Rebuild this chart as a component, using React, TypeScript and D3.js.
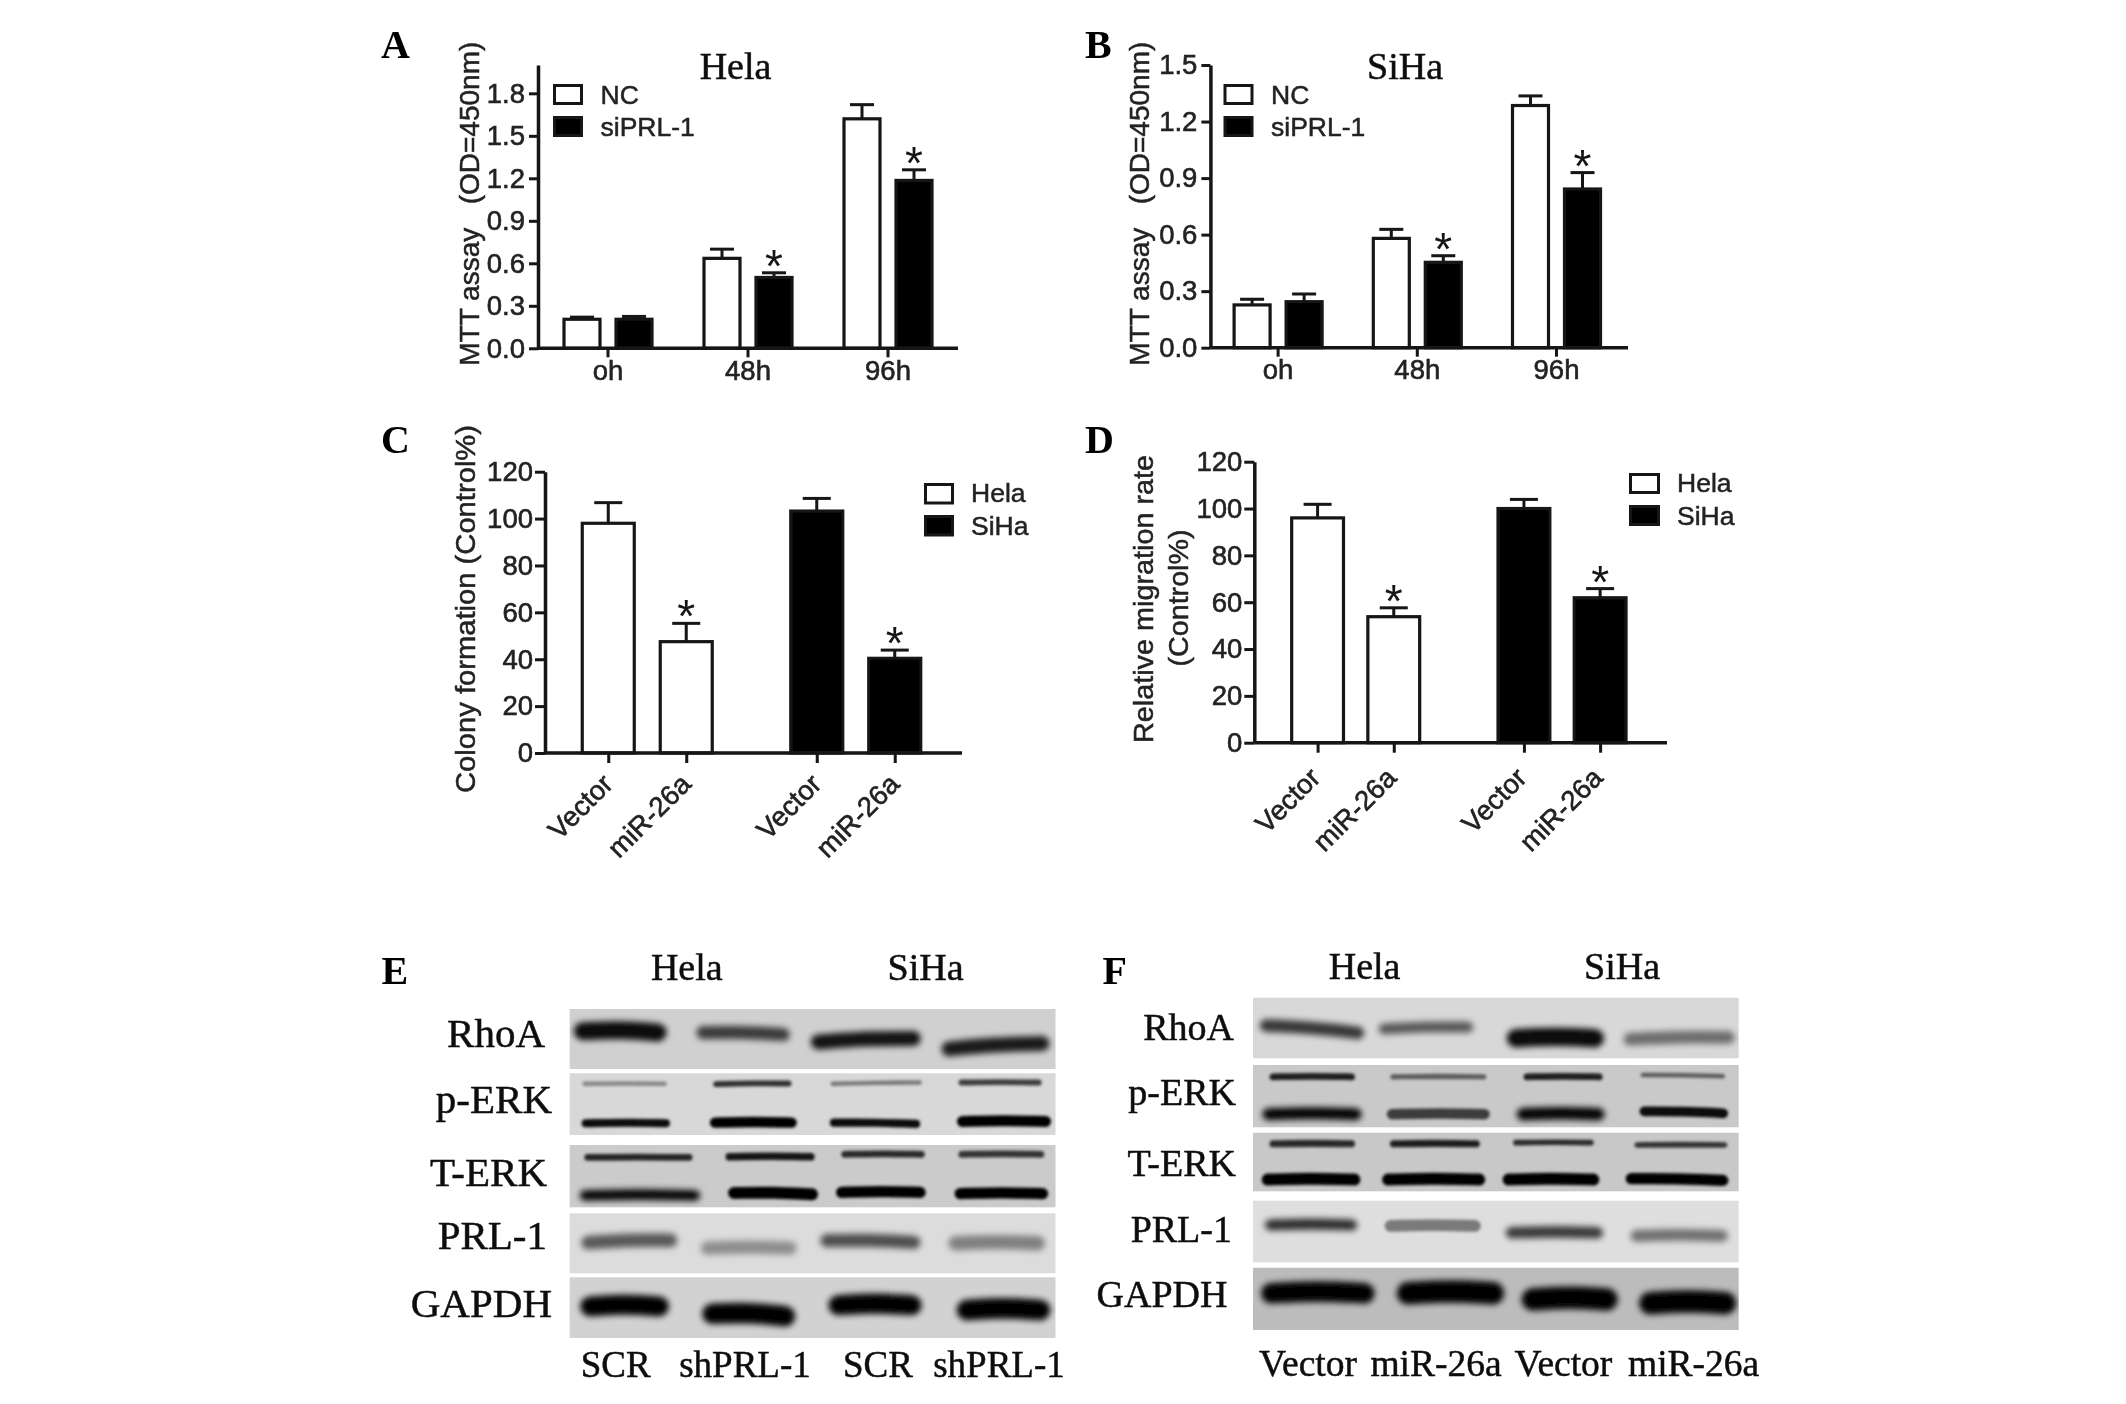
import { useEffect, useRef } from 'react';
import * as d3 from 'd3';

const WIDTH = 2126;
const HEIGHT = 1404;
const SANS = '"Liberation Sans", Arial, sans-serif';
const SERIF = '"Liberation Serif", "Times New Roman", serif';
const INK = '#141414';

// --- bar chart readings ---
const TIME_POINTS = ['oh', '48h', '96h'];
const TREATMENTS = ['NC', 'siPRL-1'];
const CELL_LINES = ['Hela', 'SiHa'];
const CONSTRUCTS = ['Vector', 'miR-26a'];

const HELA_TICKS = [0, 0.3, 0.6, 0.9, 1.2, 1.5, 1.8];
const SIHA_TICKS = [0, 0.3, 0.6, 0.9, 1.2, 1.5];
const PERCENT_TICKS = [0, 20, 40, 60, 80, 100, 120];

const HELA_NC = [0.205, 0.635, 1.62];
const HELA_NC_ERR = [0.22, 0.7, 1.72];
const HELA_SI = [0.205, 0.5, 1.185];
const HELA_SI_ERR = [0.225, 0.533, 1.26];
const HELA_SIG = [[false, false, false], [false, true, true]];

const SIHA_NC = [0.227, 0.58, 1.285];
const SIHA_NC_ERR = [0.257, 0.628, 1.336];
const SIHA_SI = [0.244, 0.453, 0.842];
const SIHA_SI_ERR = [0.285, 0.488, 0.929];
const SIHA_SIG = [[false, false, false], [false, true, true]];

const COLONY_HELA = [98, 47.5];
const COLONY_HELA_ERR = [106.8, 55.3];
const COLONY_SIHA = [103.2, 40.4];
const COLONY_SIHA_ERR = [108.6, 43.9];

const MIGRATION_HELA = [96, 53.8];
const MIGRATION_HELA_ERR = [101.8, 57.6];
const MIGRATION_SIHA = [100, 61.9];
const MIGRATION_SIHA_ERR = [103.9, 65.8];
const CONSTRUCT_SIG = [false, true];

// --- blot readings: lane start %, lane end %, migration % down the strip,
// band thickness % of strip, density 0-1, tilt % of strip ---
type Band = [number, number, number, number, number, number];

const E_RHOA: Band[] = [
  [1.4, 19.4, 38, 30, 0.95, -2], [26.5, 44.9, 41, 22, 0.72, -3],
  [50.1, 71.8, 52, 25, 0.92, 6], [77, 98.3, 62, 25, 0.88, 9],
];
const E_PERK: Band[] = [
  [2.8, 19.8, 17, 6, 0.38, 0], [29.8, 45.4, 17, 8, 0.78, 1],
  [53.9, 72.3, 16, 6, 0.45, 2], [80.3, 96.9, 15, 8, 0.72, 0],
  [2.8, 20.3, 81, 11, 0.95, 0], [29.3, 46.3, 80, 14, 1, 0],
  [53.9, 71.8, 81, 11, 0.95, -2], [80.2, 98.6, 78, 15, 1, 0],
];
const E_TERK: Band[] = [
  [3.3, 25, 20, 9, 0.82, 0], [32.4, 50.1, 19, 10, 0.9, 0],
  [56.2, 72.8, 15, 9, 0.8, 0], [80.3, 97.4, 15, 9, 0.75, 0],
  [2.4, 26.5, 81, 17, 1, 0], [33.1, 50.6, 78, 16, 1, -2],
  [55.3, 72.8, 76, 15, 1, 0], [79.7, 98, 78, 15, 1, 0],
];
const E_PRL: Band[] = [
  [2.8, 21.7, 47, 23, 0.6, 4], [27.4, 46.3, 58, 22, 0.36, 0],
  [52, 71.8, 47, 22, 0.65, -3], [78.4, 97.4, 50, 24, 0.42, 0],
];
const E_GAPDH: Band[] = [
  [2.8, 19.8, 48, 33, 1, 0], [27.9, 45.8, 62, 34, 1, -4],
  [53.9, 71.8, 46, 33, 1, 0], [80.3, 98.3, 54, 34, 1, 0],
];

const F_RHOA: Band[] = [
  [1.8, 22.5, 52, 21, 0.75, -12], [26.2, 45, 50, 18, 0.6, 3],
  [52.8, 71.7, 67, 30, 0.97, 0], [76.7, 98.8, 67, 21, 0.5, 3],
];
const F_PERK: Band[] = [
  [3.7, 20.7, 19, 9, 0.85, 0], [28.5, 47.8, 19, 7, 0.55, 0],
  [56, 71.7, 19, 9, 0.85, 0], [80, 97, 17, 6, 0.55, -2],
  [2.3, 22, 79, 19, 1, 0], [28, 48.3, 79, 14, 0.7, 0],
  [54.7, 72, 79, 20, 1, 0], [80, 97.4, 76, 13, 0.95, -3],
];
const F_TERK: Band[] = [
  [3.7, 20.7, 19, 10, 0.8, 0], [28.5, 46.4, 19, 10, 0.85, 0],
  [53.8, 69.9, 17, 8, 0.8, 0], [78.8, 97.4, 21, 8, 0.75, 0],
  [2.3, 21.6, 80, 17, 1, 0], [27.1, 47.3, 80, 17, 1, 0],
  [51.9, 70.8, 80, 17, 1, 0], [77.2, 97.4, 80, 16, 1, -3],
];
const F_PRL: Band[] = [
  [2.8, 21.1, 39.5, 18, 0.8, 0], [27.6, 46.4, 41, 16, 0.45, 0],
  [52.4, 71.7, 52, 19, 0.75, 0], [78.1, 97.4, 57, 19, 0.5, 0],
];
const F_GAPDH: Band[] = [
  [2.3, 24.4, 41, 33, 1, 0], [30.3, 51, 41, 36, 1, 0],
  [56, 74.4, 51, 36, 1, 0], [80.2, 98.8, 57, 36, 1, 0],
];

const PROTEINS = ['RhoA', 'p-ERK', 'T-ERK', 'PRL-1', 'GAPDH'];
const E_LANES = ['SCR', 'shPRL-1', 'SCR', 'shPRL-1'];
const F_LANES = ['Vector', 'miR-26a', 'Vector', 'miR-26a'];

// --- layout, kept apart from the readings ---
const BAR_PANELS = [
  {
    letter: 'A', letterX: 381, letterY: 58, axisX: 538, bandX: 538, endX: 958, baseY: 348.3, topY: 65,
    yMax: 2, ticks: HELA_TICKS, format: '.1f', tickLen: 9, tickPad: 4, barSpan: 88, barPad: 0.308, capW: 24,
    groups: TIME_POINTS, series: [HELA_NC, HELA_SI], errs: [HELA_NC_ERR, HELA_SI_ERR], sig: HELA_SIG,
    title: 'Hela', titleX: 735.5, titleY: 79.3,
    legend: TREATMENTS, legX: 553, legW: 30, legY: [84, 116], legH: 21, legTextX: 600.5, legTextY: [95, 127],
    yLabels: [{ t: 'MTT assay   (OD=450nm)', x: 469, y: 203.7, len: 324 }],
  },
  {
    letter: 'B', letterX: 1085, letterY: 58, axisX: 1210.4, bandX: 1208.5, endX: 1628, baseY: 347.7, topY: 65,
    yMax: 1.5, ticks: SIHA_TICKS, format: '.1f', tickLen: 9, tickPad: 4, barSpan: 88, barPad: 0.308, capW: 24,
    groups: TIME_POINTS, series: [SIHA_NC, SIHA_SI], errs: [SIHA_NC_ERR, SIHA_SI_ERR], sig: SIHA_SIG,
    title: 'SiHa', titleX: 1405, titleY: 79.3,
    legend: TREATMENTS, legX: 1223.5, legW: 30, legY: [84, 116], legH: 21, legTextX: 1271, legTextY: [95, 127],
    yLabels: [{ t: 'MTT assay   (OD=450nm)', x: 1139, y: 203.7, len: 324 }],
  },
  {
    letter: 'C', letterX: 381, letterY: 453, axisX: 545, bandX: 543, endX: 962, baseY: 753, topY: 471.7,
    yMax: 120, ticks: PERCENT_TICKS, format: 'd', tickLen: 10, tickPad: 2, barSpan: 130, barPad: 0.333, capW: 28,
    groups: CELL_LINES, series: [[COLONY_HELA[0], COLONY_SIHA[0]], [COLONY_HELA[1], COLONY_SIHA[1]]],
    errs: [[COLONY_HELA_ERR[0], COLONY_SIHA_ERR[0]], [COLONY_HELA_ERR[1], COLONY_SIHA_ERR[1]]],
    sig: [[CONSTRUCT_SIG[0], CONSTRUCT_SIG[0]], [CONSTRUCT_SIG[1], CONSTRUCT_SIG[1]]], byConstruct: true,
    tickShift: [-1, 26],
    legend: CELL_LINES, legX: 924, legW: 30, legY: [483, 515], legH: 21.5, legTextX: 971, legTextY: [493.3, 526],
    yLabels: [{ t: 'Colony formation (Control%)', x: 465, y: 609, len: 368 }],
  },
  {
    letter: 'D', letterX: 1085, letterY: 453, axisX: 1254.3, bandX: 1252.5, endX: 1667, baseY: 742.7, topY: 461.7,
    yMax: 120, ticks: PERCENT_TICKS, format: 'd', tickLen: 10, tickPad: 2, barSpan: 128, barPad: 0.32, capW: 28,
    groups: CELL_LINES, series: [[MIGRATION_HELA[0], MIGRATION_SIHA[0]], [MIGRATION_HELA[1], MIGRATION_SIHA[1]]],
    errs: [[MIGRATION_HELA_ERR[0], MIGRATION_SIHA_ERR[0]], [MIGRATION_HELA_ERR[1], MIGRATION_SIHA_ERR[1]]],
    sig: [[CONSTRUCT_SIG[0], CONSTRUCT_SIG[0]], [CONSTRUCT_SIG[1], CONSTRUCT_SIG[1]]], byConstruct: true,
    tickShift: [-3, 30],
    legend: CELL_LINES, legX: 1629, legW: 31, legY: [473, 505], legH: 21, legTextX: 1677, legTextY: [483.3, 516],
    yLabels: [
      { t: 'Relative migration rate', x: 1143.7, y: 599, len: 288 },
      { t: '(Control%)', x: 1178, y: 598, len: 137 },
    ],
  },
];

const BLOT_PANELS = [
  {
    id: 'e', letter: 'E', letterX: 381.5, letterY: 984, x0: 569.7, x1: 1055.5,
    strips: [
      { bands: E_RHOA, y0: 1009, y1: 1069, fill: '#d0d0d0', labelX: 545, labelY: 1047 },
      { bands: E_PERK, y0: 1073.3, y1: 1135, fill: '#d8d8d8', labelX: 552, labelY: 1113 },
      { bands: E_TERK, y0: 1145, y1: 1207.3, fill: '#cbcbcb', labelX: 547, labelY: 1186 },
      { bands: E_PRL, y0: 1213.3, y1: 1273.3, fill: '#dcdcdc', labelX: 547, labelY: 1249 },
      { bands: E_GAPDH, y0: 1277.3, y1: 1338, fill: '#d2d2d2', labelX: 552, labelY: 1316.7 },
    ],
    labelSize: 41, heads: [{ t: 'Hela', x: 686.8 }, { t: 'SiHa', x: 925.6 }], headY: 980,
    lanes: E_LANES, laneX: [615.6, 745, 878, 999], laneY: 1376.7, laneSize: 37,
  },
  {
    id: 'f', letter: 'F', letterX: 1102.5, letterY: 984, x0: 1253, x1: 1738.7,
    strips: [
      { bands: F_RHOA, y0: 997.7, y1: 1058.3, fill: '#d8d8d8', labelX: 1234, labelY: 1040 },
      { bands: F_PERK, y0: 1065, y1: 1127.3, fill: '#c9c9c9', labelX: 1236, labelY: 1105 },
      { bands: F_TERK, y0: 1132.7, y1: 1191.3, fill: '#c8c8c8', labelX: 1236, labelY: 1176 },
      { bands: F_PRL, y0: 1200.7, y1: 1262.3, fill: '#dedede', labelX: 1232, labelY: 1241.7 },
      { bands: F_GAPDH, y0: 1267.7, y1: 1330, fill: '#bcbcbc', labelX: 1227.5, labelY: 1307.3 },
    ],
    labelSize: 38, heads: [{ t: 'Hela', x: 1364.6 }, { t: 'SiHa', x: 1622 }], headY: 979,
    lanes: F_LANES, laneX: [1308, 1436, 1563.4, 1693.6], laneY: 1375.7, laneSize: 37.5,
  },
];

function drawBarPanel(root: any, p: any) {
  const g = root.append('g');
  const y = d3.scaleLinear().domain([0, p.yMax]).range([p.baseY, p.topY]);
  const groupX = d3.scaleBand<string>().domain(p.groups).range([p.bandX, p.bandX + (p.endX - p.axisX)]);
  const barX = d3.scaleBand<number>().domain([0, 1]).range([-p.barSpan / 2, p.barSpan / 2]).paddingInner(p.barPad);
  const bw = barX.bandwidth();

  // one entry per bar; C and D are coloured by cell line, A and B by treatment
  const bars: any[] = [];
  p.series.forEach((vals: number[], s: number) => {
    vals.forEach((v, i) => {
      const cx = groupX(p.groups[i])! + groupX.bandwidth() / 2 + barX(s)! + bw / 2;
      bars.push({ cx, v, err: p.errs[s][i], sig: p.sig[s][i], dark: p.byConstruct ? i === 1 : s === 1, s, i });
    });
  });

  g.selectAll('line.err').data(bars).join('line').attr('class', 'err')
    .attr('x1', (d: any) => d.cx).attr('x2', (d: any) => d.cx)
    .attr('y1', (d: any) => y(d.v)).attr('y2', (d: any) => y(d.err))
    .attr('stroke', INK).attr('stroke-width', 3);
  g.selectAll('line.cap').data(bars).join('line').attr('class', 'cap')
    .attr('x1', (d: any) => d.cx - p.capW / 2).attr('x2', (d: any) => d.cx + p.capW / 2)
    .attr('y1', (d: any) => y(d.err)).attr('y2', (d: any) => y(d.err))
    .attr('stroke', INK).attr('stroke-width', 3);
  g.selectAll('rect.bar').data(bars).join('rect').attr('class', 'bar')
    .attr('x', (d: any) => d.cx - bw / 2).attr('width', bw)
    .attr('y', (d: any) => y(d.v)).attr('height', (d: any) => p.baseY - y(d.v))
    .attr('fill', (d: any) => (d.dark ? '#000' : '#fff'))
    .attr('stroke', INK).attr('stroke-width', 3.2);
  g.selectAll('text.star').data(bars.filter((d) => d.sig)).join('text').attr('class', 'star')
    .attr('x', (d: any) => d.cx).attr('y', (d: any) => y(d.err) + 9)
    .attr('text-anchor', 'middle').attr('font-family', SANS).attr('font-size', 46).attr('fill', INK)
    .text('*');

  const yAxis = d3.axisLeft(y).tickValues(p.ticks).tickFormat(d3.format(p.format))
    .tickSize(p.tickLen).tickSizeOuter(0).tickPadding(p.tickPad);
  const yG = g.append('g').attr('transform', `translate(${p.axisX},0)`).call(yAxis);

  // tick under each group for A/B, under each bar for C/D
  let xAxis;
  if (p.byConstruct) {
    const keys = bars.slice().sort((a, b) => a.cx - b.cx);
    const tickScale = d3.scaleOrdinal<string, number>()
      .domain(keys.map((d) => `${d.i}-${d.s}`)).range(keys.map((d) => d.cx));
    xAxis = d3.axisBottom(tickScale as any).tickFormat((k: any) => CONSTRUCTS[+k.split('-')[1]]);
  } else {
    xAxis = d3.axisBottom(groupX);
  }
  xAxis.tickSize(p.tickLen).tickSizeOuter(0).tickPadding(3);
  const xG = g.append('g').attr('transform', `translate(0,${p.baseY})`).call(xAxis);
  xG.select('.domain').remove();
  g.append('line').attr('x1', p.axisX).attr('x2', p.endX).attr('y1', p.baseY).attr('y2', p.baseY)
    .attr('stroke', INK).attr('stroke-width', 3.5);

  for (const a of [yG, xG]) {
    a.selectAll('line').attr('stroke', INK).attr('stroke-width', 3);
    a.selectAll('path').attr('stroke', INK).attr('stroke-width', 3.5);
    a.selectAll('text').attr('fill', '#222').attr('font-size', 27.5).attr('font-family', SANS)
      .attr('stroke', '#222').attr('stroke-width', 0.6);
  }
  if (p.byConstruct) {
    xG.selectAll('text')
      .attr('text-anchor', 'end')
      .attr('dy', '0.35em')
      .attr('transform', `translate(${p.tickShift[0]},${p.tickShift[1]}) rotate(-45)`)
      .attr('x', 0).attr('y', 0);
  }

  for (const l of p.yLabels) {
    g.append('text')
      .attr('transform', `translate(${l.x},${l.y}) rotate(-90)`)
      .attr('text-anchor', 'middle').attr('dominant-baseline', 'central')
      .attr('font-family', SANS).attr('font-size', 28).attr('fill', '#222')
      .attr('stroke', '#222').attr('stroke-width', 0.5)
      .attr('textLength', l.len).attr('lengthAdjust', 'spacingAndGlyphs')
      .style('white-space', 'pre')
      .text(l.t);
  }

  p.legend.forEach((name: string, i: number) => {
    g.append('rect').attr('x', p.legX + 1.5).attr('y', p.legY[i] + 1.5)
      .attr('width', p.legW - 3).attr('height', p.legH - 3)
      .attr('fill', i ? '#000' : '#fff').attr('stroke', INK).attr('stroke-width', 3);
    g.append('text').attr('x', p.legTextX).attr('y', p.legTextY[i])
      .attr('dominant-baseline', 'central').attr('font-family', SANS).attr('font-size', 26.5).attr('fill', '#222')
      .attr('stroke', '#222').attr('stroke-width', 0.5)
      .text(name);
  });

  if (p.title) {
    g.append('text').attr('x', p.titleX).attr('y', p.titleY).attr('text-anchor', 'middle')
      .attr('font-family', SERIF).attr('font-size', 38).attr('fill', '#111')
      .attr('stroke', '#111').attr('stroke-width', 0.5).text(p.title);
  }
  g.append('text').attr('x', p.letterX).attr('y', p.letterY)
    .attr('font-family', SERIF).attr('font-weight', 700).attr('font-size', 40).attr('fill', '#000').text(p.letter);
}

function drawBlotPanel(root: any, defs: any, p: any) {
  const g = root.append('g');
  const gelX = d3.scaleLinear().domain([0, 100]).range([p.x0, p.x1]);
  const bandPath = d3.line().curve(d3.curveBasis);

  p.strips.forEach((s: any, si: number) => {
    const gelY = d3.scaleLinear().domain([0, 100]).range([s.y0, s.y1]);
    const thick = (b: Band) => ((s.y1 - s.y0) * b[3]) / 100;
    const clipId = `${p.id}-strip-${si}`;
    defs.append('clipPath').attr('id', clipId).append('rect')
      .attr('x', p.x0).attr('y', s.y0).attr('width', p.x1 - p.x0).attr('height', s.y1 - s.y0);
    g.append('rect').attr('x', p.x0).attr('y', s.y0).attr('width', p.x1 - p.x0).attr('height', s.y1 - s.y0)
      .attr('fill', s.fill);
    const strip = g.append('g').attr('clip-path', `url(#${clipId})`);
    strip.selectAll('path').data(s.bands).join('path')
      .attr('d', (b: Band) => {
        const th = thick(b);
        const left = gelX(b[0]) + th * 0.35;
        const right = Math.max(gelX(b[1]) - th * 0.35, left + 1);
        const mid = (left + right) / 2;
        return bandPath([
          [left, gelY(b[2] + b[5] / 2)],
          [mid, gelY(b[2]) - th * 0.12],
          [right, gelY(b[2] - b[5] / 2)],
        ]);
      })
      .attr('fill', 'none')
      .attr('stroke', '#050505')
      .attr('stroke-linecap', 'round')
      .attr('stroke-width', (b: Band) => (thick(b) > 10 ? thick(b) : thick(b) * 1.2))
      .attr('stroke-opacity', (b: Band) => b[4])
      .attr('filter', (b: Band) => (thick(b) > 10 ? 'url(#blur-wide)' : 'url(#blur-thin)'));

    g.append('text').attr('x', s.labelX).attr('y', s.labelY).attr('text-anchor', 'end')
      .attr('font-family', SERIF).attr('font-size', p.labelSize).attr('fill', '#111')
      .attr('stroke', '#111').attr('stroke-width', 0.5)
      .text(PROTEINS[si]);
  });

  for (const h of p.heads) {
    g.append('text').attr('x', h.x).attr('y', p.headY).attr('text-anchor', 'middle')
      .attr('font-family', SERIF).attr('font-size', 38).attr('fill', '#111')
      .attr('stroke', '#111').attr('stroke-width', 0.5).text(h.t);
  }
  p.lanes.forEach((name: string, i: number) => {
    g.append('text').attr('x', p.laneX[i]).attr('y', p.laneY).attr('text-anchor', 'middle')
      .attr('font-family', SERIF).attr('font-size', p.laneSize).attr('fill', '#111')
      .attr('stroke', '#111').attr('stroke-width', 0.5).text(name);
  });
  g.append('text').attr('x', p.letterX).attr('y', p.letterY)
    .attr('font-family', SERIF).attr('font-weight', 700).attr('font-size', 40).attr('fill', '#000').text(p.letter);
}

export default function App() {
  const svgRef = useRef<SVGSVGElement>(null);

  useEffect(() => {
    const svg = d3.select(svgRef.current);
    svg.selectAll('*').remove();
    const defs = svg.append('defs');
    const addBlur = (id: string, sd: number) => {
      defs.append('filter').attr('id', id).attr('filterUnits', 'userSpaceOnUse')
        .attr('x', 0).attr('y', 0).attr('width', WIDTH).attr('height', HEIGHT)
        .append('feGaussianBlur').attr('stdDeviation', sd);
    };
    addBlur('blur-wide', 3.2);
    addBlur('blur-thin', 1.8);
    addBlur('blur-soft', 0.6);

    svg.append('rect').attr('width', WIDTH).attr('height', HEIGHT).attr('fill', '#fff');
    const root = svg.append('g').attr('filter', 'url(#blur-soft)');
    BAR_PANELS.forEach((p) => drawBarPanel(root, p));
    BLOT_PANELS.forEach((p) => drawBlotPanel(root, defs, p));
  }, []);

  return (
    <svg
      ref={svgRef}
      width={WIDTH}
      height={HEIGHT}
      viewBox={`0 0 ${WIDTH} ${HEIGHT}`}
      style={{ position: 'fixed', left: 0, top: 0, display: 'block' }}
    />
  );
}
